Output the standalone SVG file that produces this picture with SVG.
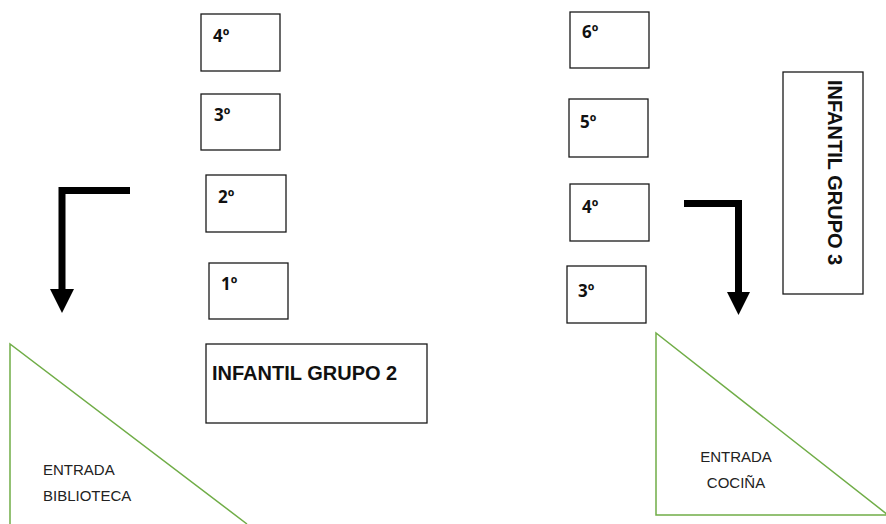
<svg xmlns="http://www.w3.org/2000/svg" width="886" height="524" viewBox="0 0 886 524">
<style>
.box{fill:#fff;stroke:#1a1a1a;stroke-width:1.3}
.lbl{font-family:"Noto Sans","Open Sans",sans-serif;font-weight:bold;font-size:17px;fill:#111}
.big{font-family:"Liberation Sans",Arial,sans-serif;font-weight:bold;font-size:20px;fill:#111}
.tri{fill:none;stroke:#70AD47;stroke-width:1.5}
.ent{font-family:"Liberation Sans",Arial,sans-serif;font-size:15px;fill:#222}
.arr{fill:none;stroke:#000;stroke-width:7}
.head{fill:#000}
</style>
<rect width="886" height="524" fill="#fff"/>
<g id="l4"><rect class="box" x="201" y="14" width="79" height="57"/><text class="lbl" x="213" y="42">4º</text></g>
<g id="l3"><rect class="box" x="201" y="94" width="79" height="56"/><text class="lbl" x="214" y="121">3º</text></g>
<g id="l2"><rect class="box" x="206" y="175" width="80" height="57"/><text class="lbl" x="218" y="203">2º</text></g>
<g id="l1"><rect class="box" x="209" y="263" width="79" height="56"/><text class="lbl" x="221" y="290">1º</text></g>
<g id="g2"><rect class="box" x="206" y="344" width="221" height="79"/><text class="big" x="212" y="380">INFANTIL GRUPO 2</text></g>
<g id="r6"><rect class="box" x="570" y="12" width="79" height="56"/><text class="lbl" x="582" y="38">6º</text></g>
<g id="r5"><rect class="box" x="569" y="99" width="79" height="58"/><text class="lbl" x="580" y="128">5º</text></g>
<g id="r4"><rect class="box" x="570" y="184" width="79" height="57"/><text class="lbl" x="582" y="213">4º</text></g>
<g id="r3"><rect class="box" x="567" y="266" width="79" height="57"/><text class="lbl" x="578" y="297">3º</text></g>
<g id="g3"><rect class="box" x="783" y="72" width="80" height="222"/><text class="big" transform="translate(828,80) rotate(90)" x="0" y="0">INFANTIL GRUPO 3</text></g>
<g id="biblioteca"><polyline class="tri" points="10,524 10,344 247,524"/><text class="ent" x="43" y="475">ENTRADA</text><text class="ent" x="43" y="501">BIBLIOTECA</text></g>
<g id="cocina"><polygon class="tri" points="656,333 656,515 888,515"/><text class="ent" x="736" y="462" text-anchor="middle">ENTRADA</text><text class="ent" x="736" y="488" text-anchor="middle">COCIÑA</text></g>
<g id="connectors">
<path class="arr" d="M130,190.5 H62 V291"/><polygon class="head" points="50,289 74,289 62,313"/>
<path class="arr" d="M684,203.5 H738.5 V294"/><polygon class="head" points="727,292 750,292 738.5,315"/>
</g>
</svg>
